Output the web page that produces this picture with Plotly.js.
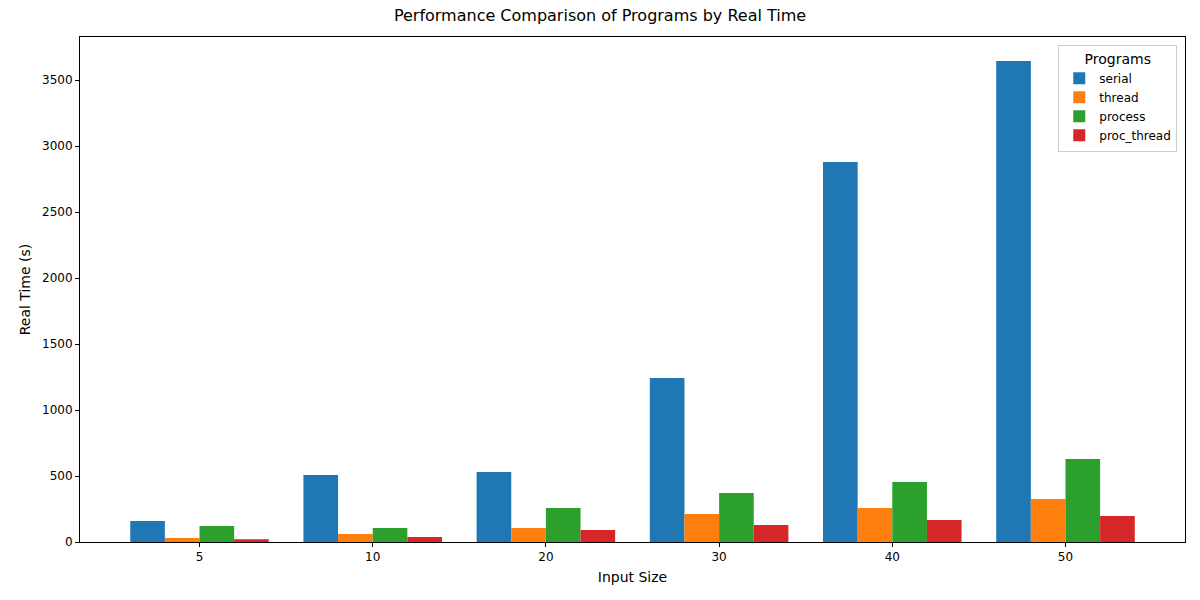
<!DOCTYPE html>
<html><head><script src="https://cdn.plot.ly/plotly-3.0.1.min.js"></script>
<style>body{margin:0}</style></head><body><div id="c" style="width:1200px;height:600px"></div>
<script>
const sizes = ["5","10","20","30","40","50"];
const serial = [160, 507, 530, 1242, 2879, 3644];
const thread = [30, 60, 106, 212, 258, 326];
const proc = [121, 106, 258, 371, 455, 629];
const procThread = [20, 38, 91, 129, 167, 197];
const names = ["serial","thread","process","proc_thread"];
const colors = ["#1f77b4","#ff7f0e","#2ca02c","#d62728"];
const series = [serial, thread, proc, procThread];
const xs = sizes.map((s,i)=>i);
const data = series.map((v,k)=>({type:"bar", x:xs, y:v, name:names[k], marker:{color:colors[k]}}));
const ax = {showline:true, mirror:true, linecolor:"#000", linewidth:1, ticks:"outside", ticklen:4, tickcolor:"#000", zeroline:false, showgrid:false};
Plotly.newPlot("c", data, {
  width:1200, height:600, font:{family:"DejaVu Sans", size:12, color:"#000"},
  margin:{l:80, r:15, t:37, b:58},
  title:{text:"Performance Comparison of Programs by Real Time", font:{size:16}, x:0.5, y:0.975, yanchor:"middle"},
  barmode:"group", bargap:0.2, bargroupgap:0,
  xaxis:Object.assign({}, ax, {tickvals:xs, ticktext:sizes, range:[-0.69,5.69], title:{text:"Input Size", standoff:8}}),
  yaxis:Object.assign({}, ax, {range:[0,3826], dtick:500, title:{text:"Real Time (s)", standoff:8}}),
  legend:{x:0.993, y:0.985, xanchor:"right", yanchor:"top", bordercolor:"#ccc", borderwidth:1, bgcolor:"rgba(255,255,255,0.8)", title:{text:"Programs", side:"top center"}},
  plot_bgcolor:"#fff", paper_bgcolor:"#fff"
}, {displayModeBar:false});
</script></body></html>
